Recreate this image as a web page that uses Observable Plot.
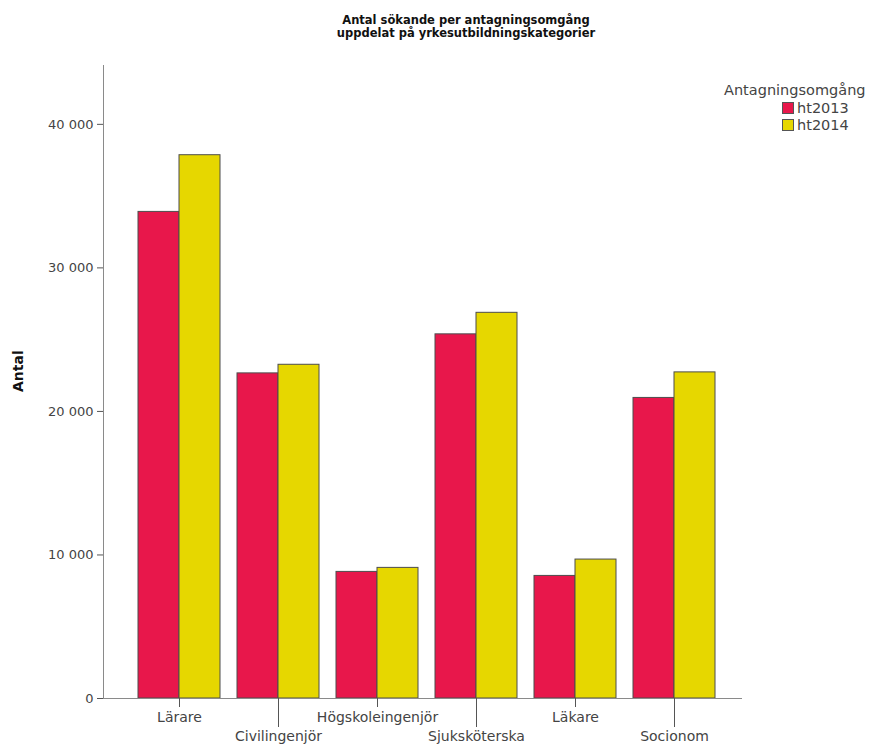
<!DOCTYPE html>
<html>
<head>
<meta charset="utf-8">
<script src="https://cdn.jsdelivr.net/npm/d3@7"></script>
<script src="https://cdn.jsdelivr.net/npm/@observablehq/plot@0.6"></script>
<style>
  html, body { margin: 0; padding: 0; background: #fff; }
  #wrap { position: relative; width: 890px; height: 747px; font-family: "DejaVu Sans", sans-serif; }
  #title { height: 45px; box-sizing: border-box; padding-left: 42px; padding-top: 14px; text-align: center; font-weight: bold; font-size: 11.5px; line-height: 13px; color: #111; }
  #legend { position: absolute; left: 724px; top: 81px; font-size: 14.5px; color: #444; }
  #legend .ttl { line-height: 18px; }
  #legend .row { display: flex; align-items: center; height: 17px; margin-left: 58px; }
  #legend .sw { width: 12px; height: 12px; box-sizing: border-box; border: 1px solid #555; margin-right: 3px; }
</style>
</head>
<body>
<div id="wrap">
  <div id="title">Antal sökande per antagningsomgång<br>uppdelat på yrkesutbildningskategorier</div>
  <div id="chart"></div>
  <div id="legend"></div>
</div>
<script>
const categories = ["Lärare", "Civilingenjör", "Högskoleingenjör", "Sjuksköterska", "Läkare", "Socionom"];
const years = ["ht2013", "ht2014"];
const ht2013 = [33900, 22650, 8820, 25370, 8540, 20940];
const ht2014 = [37850, 23250, 9100, 26870, 9680, 22720];
const yTicks = [0, 10000, 20000, 30000, 40000];
const yTickLabels = ["0", "10 000", "20 000", "30 000", "40 000"];
const colors = ["#e8174b", "#e6d700"];
const legendTitle = "Antagningsomgång";
const yLabel = "Antal";

const W = 890, H = 702, mL = 103, mR = 149, mT = 20, mB = 49;
const xOpts = {domain: categories, paddingInner: 0.176, paddingOuter: 0.294, align: 0.564};
const frameOpts = {width: W, height: H, marginTop: mT, marginLeft: mL, marginRight: mR, marginBottom: mB};

const rows13 = categories.map((c, i) => ({cat: c, year: years[0], value: ht2013[i]}));
const rows14 = categories.map((c, i) => ({cat: c, year: years[1], value: ht2014[i]}));
const evenCats = categories.filter((c, i) => i % 2 === 0);
const oddCats = categories.filter((c, i) => i % 2 === 1);

// probe the band scale to get its bandwidth, then split each band in two
const probe = Plot.plot({...frameOpts, x: {...xOpts}, y: {domain: [0, 44100]}, marks: [Plot.barY(rows13, {x: "cat", y: "value"})]});
const half = probe.scale("x").bandwidth / 2;

const chart = Plot.plot({
  ...frameOpts,
  style: {fontFamily: "DejaVu Sans, sans-serif", fontSize: "14px", color: "#444", background: "white", overflow: "visible"},
  x: {...xOpts, axis: null, label: null},
  y: {domain: [0, 44100], axis: null},
  color: {domain: years, range: colors},
  marks: [
    Plot.barY(rows13, {x: "cat", y: "value", fill: "year", stroke: "#4d4d4d", strokeWidth: 1, insetRight: half}),
    Plot.barY(rows14, {x: "cat", y: "value", fill: "year", stroke: "#4d4d4d", strokeWidth: 1, insetLeft: half}),
    Plot.frame({anchor: "left", stroke: "#8a8a8a"}),
    Plot.frame({anchor: "bottom", stroke: "#8a8a8a"}),
    Plot.axisY({ticks: yTicks, tickFormat: d => yTickLabels[yTicks.indexOf(d)], tickSize: 6, tickPadding: 4, label: null, stroke: "#555", fontSize: 13}),
    Plot.axisX({ticks: evenCats, anchor: "bottom", tickSize: 9, tickPadding: 5, label: null, stroke: "#555"}),
    Plot.axisX({ticks: oddCats, anchor: "bottom", tickSize: 29, tickPadding: 4, label: null, stroke: "#555"}),
    Plot.text([yLabel], {frameAnchor: "left", rotate: -90, dx: -85, dy: 10, fontWeight: "bold", fontSize: 14, fill: "#111"})
  ]
});
document.getElementById("chart").appendChild(chart);

const legend = document.getElementById("legend");
const t = document.createElement("div");
t.className = "ttl";
t.textContent = legendTitle;
legend.appendChild(t);
years.forEach((y, i) => {
  const row = document.createElement("div");
  row.className = "row";
  const sw = document.createElement("div");
  sw.className = "sw";
  sw.style.background = colors[i];
  const lab = document.createElement("span");
  lab.textContent = y;
  row.appendChild(sw);
  row.appendChild(lab);
  legend.appendChild(row);
});
</script>
</body>
</html>
